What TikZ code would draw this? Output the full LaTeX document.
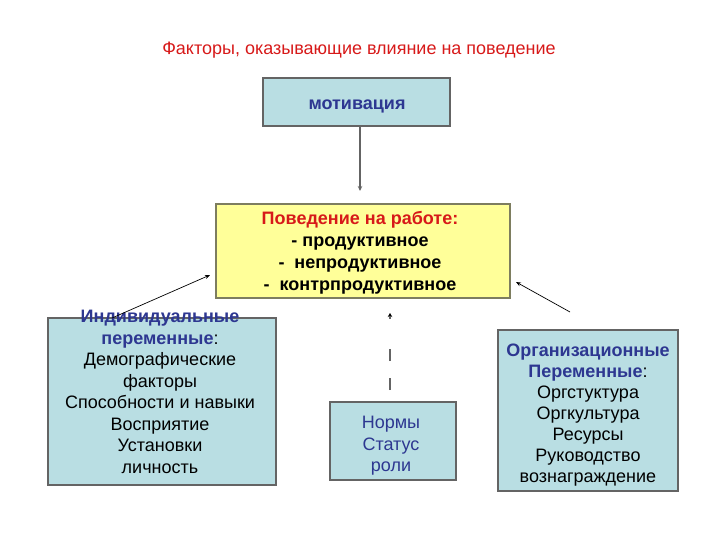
\documentclass[tikz,border=0pt]{standalone}
\usepackage{fontspec}
\setmainfont{Liberation Sans}
\usetikzlibrary{arrows.meta}
\definecolor{lblue}{RGB}{185,222,227}
\definecolor{lyellow}{RGB}{255,255,153}
\definecolor{bgray}{RGB}{100,100,100}
\definecolor{ygray}{RGB}{125,125,95}
\definecolor{dblue}{RGB}{45,55,145}
\definecolor{tred}{RGB}{215,25,25}
\tikzset{
  bx/.style={draw=bgray, line width=1.6pt, fill=lblue, inner sep=0pt},
  ybx/.style={draw=ygray, line width=1.6pt, fill=lyellow, inner sep=0pt},
  txt/.style={align=center, inner sep=0pt, font=\fontsize{18}{21.5}\selectfont},
  arr/.style={-{Stealth[length=5pt,width=4pt]}, black, line width=0.7pt},
}
\begin{document}
\begin{tikzpicture}[x=1pt,y=-1pt]
\useasboundingbox (0,0) rectangle (720,540);
\node[txt, text=tred] (title) at (359,50) {Факторы, оказывающие влияние на поведение};
% motivation
\node[bx, minimum width=187pt, minimum height=48pt] (mot) at (356.5,102) {};
\node[txt, text=dblue, font=\fontsize{18}{21.5}\selectfont\bfseries] (mottxt) at (357,106) {мотивация};
% behaviour
\node[ybx, minimum width=294pt, minimum height=94pt] (beh) at (363,251) {};
\node[txt, font=\fontsize{18}{22}\selectfont\bfseries, anchor=north] (behtxt) at (360,211)
  {\textcolor{tred}{Поведение на работе:}\\- продуктивное\\-\ \ непродуктивное\\-\ \ контрпродуктивное};
% individual
\node[bx, minimum width=228pt, minimum height=167pt] (ind) at (162,401.5) {};
\node[txt, anchor=north] (indtxt) at (160,310)
  {\textcolor{dblue}{\bfseries Индивидуальные}\\\textcolor{dblue}{\bfseries переменные}:\\Демографические\\факторы\\Способности и навыки\\Восприятие\\Установки\\личность};
% norms
\node[bx, minimum width=126pt, minimum height=78pt] (norm) at (393,441) {};
\node[txt, text=dblue] (normtxt) at (391,446) {Нормы\\Статус\\роли};
% organisational
\node[bx, minimum width=180pt, minimum height=161pt] (org) at (588,410.5) {};
\node[txt, font=\fontsize{18}{21}\selectfont] (orgtxt) at (588,415)
  {\textcolor{dblue}{\bfseries Организационные}\\\textcolor{dblue}{\bfseries Переменные}:\\Оргстуктура\\Оргкультура\\Ресурсы\\Руководство\\вознаграждение};
% connectors
\coordinate (motend) at (360,191);
\draw[-{Stealth[length=5pt,width=4.5pt]}, draw=bgray, line width=1.6pt] (mot.south -| motend) -- (motend);
\coordinate (indstart) at (112,318);
\coordinate (indend) at (210,275);
\draw[arr] (indstart) -- (indend);
\coordinate (orgstart) at (570,312);
\coordinate (orgend) at (516,282);
\draw[arr] (orgstart) -- (orgend);
\coordinate (normstart) at (390,390);
\coordinate (normend) at (390,313);
\draw[draw=bgray, line width=1.2pt, dash pattern=on 12pt off 17pt on 12pt off 30pt on 12pt, -{Stealth[length=4pt,width=4.5pt,black]}] (normstart) -- (normend);
\end{tikzpicture}
\end{document}
